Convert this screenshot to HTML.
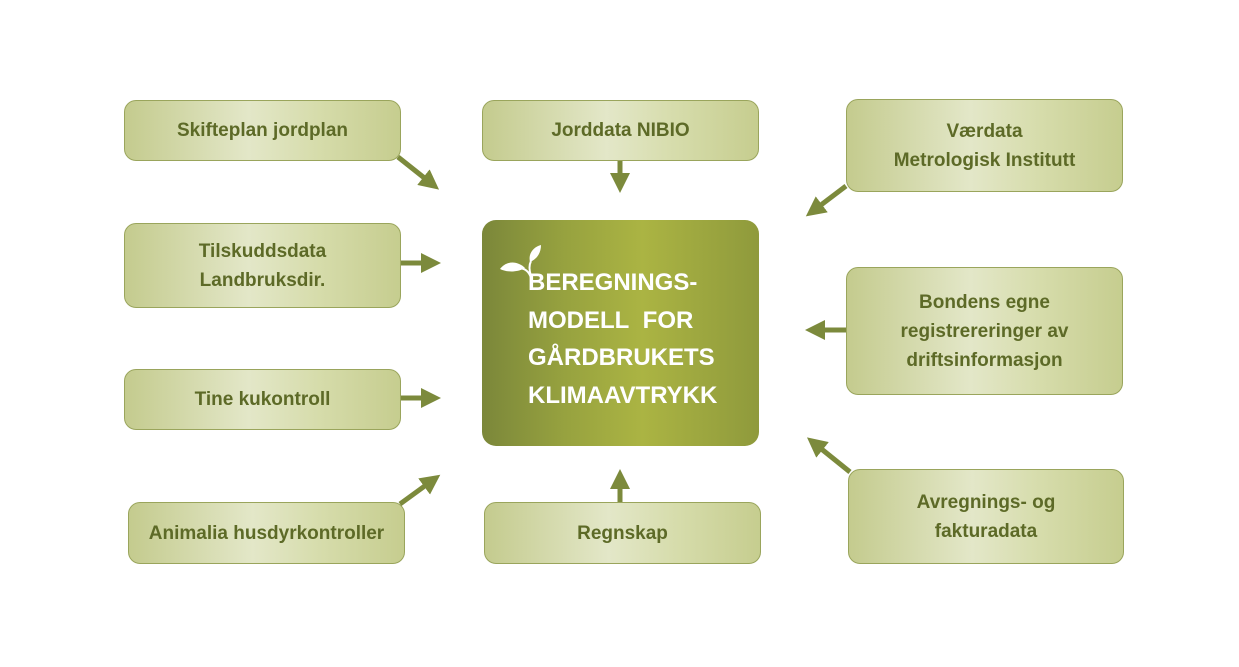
<!DOCTYPE html>
<html><head><meta charset="utf-8"><style>
html,body{margin:0;padding:0;background:#fff;}
body{width:1239px;height:667px;position:relative;overflow:hidden;font-family:"Liberation Sans","DejaVu Sans",sans-serif;}
.b{position:absolute;box-sizing:border-box;border:1.5px solid #9aa55c;border-radius:12px;
background:linear-gradient(90deg,#c4cb8e 0%,#e3e7c8 45%,#d6dcab 70%,#c6cd8f 100%);
display:flex;align-items:center;justify-content:center;text-align:center;
color:#5d6a27;font-weight:bold;font-size:19px;line-height:29px;}
.c{position:absolute;left:482px;top:220px;width:277px;height:226px;border-radius:14px;
background:linear-gradient(90deg,#7b873a 0%,#97a23f 30%,#abb443 58%,#8f9a3c 100%);}
.ct{position:absolute;left:528px;top:264px;color:#fff;font-weight:bold;font-size:24px;line-height:37.5px;letter-spacing:0px;}
svg{position:absolute;left:0;top:0;}
</style></head><body>
<div class="b" style="left:124px;top:100px;width:277px;height:61px;">Skifteplan jordplan</div>
<div class="b" style="left:482px;top:100px;width:277px;height:61px;">Jorddata NIBIO</div>
<div class="b" style="left:846px;top:99px;width:277px;height:93px;">Værdata<br>Metrologisk Institutt</div>
<div class="b" style="left:124px;top:223px;width:277px;height:85px;">Tilskuddsdata<br>Landbruksdir.</div>
<div class="b" style="left:846px;top:267px;width:277px;height:128px;">Bondens egne<br>registrereringer av<br>driftsinformasjon</div>
<div class="b" style="left:124px;top:369px;width:277px;height:61px;">Tine kukontroll</div>
<div class="b" style="left:128px;top:502px;width:277px;height:62px;">Animalia husdyrkontroller</div>
<div class="b" style="left:484px;top:502px;width:277px;height:62px;">Regnskap</div>
<div class="b" style="left:848px;top:469px;width:276px;height:95px;">Avregnings- og<br>fakturadata</div>
<div class="c"></div>
<div class="ct">BEREGNINGS-<br>MODELL&nbsp; FOR<br>GÅRDBRUKETS<br>KLIMAAVTRYKK</div>
<svg width="1239" height="667" viewBox="0 0 1239 667">
<defs><marker id="a" markerWidth="4" markerHeight="4" refX="2.2" refY="2" orient="auto" markerUnits="strokeWidth"><path d="M0,0 L4,2 L0,4 Z" fill="#7c8a3c"/></marker></defs>
<g stroke="#7c8a3c" stroke-width="5" fill="none" marker-end="url(#a)">
<line x1="398" y1="157" x2="432" y2="184"/>
<line x1="620" y1="161" x2="620" y2="184"/>
<line x1="846" y1="186" x2="813" y2="211"/>
<line x1="401" y1="263" x2="432" y2="263"/>
<line x1="846" y1="330" x2="814" y2="330"/>
<line x1="401" y1="398" x2="432" y2="398"/>
<line x1="400" y1="504" x2="433" y2="480"/>
<line x1="620" y1="502" x2="620" y2="478"/>
<line x1="850" y1="472" x2="814" y2="443"/>
</g>
<g fill="#fff">
<path d="M500,269 C507,260 518,261 525,268 C516,273 506,272 500,269 Z"/>
<path d="M530,262 C528,254 533,247 541,245 C541,253 537,259 530,262 Z"/>
<path d="M518,268 C524,268 529,271 531,278" stroke="#fff" stroke-width="2" fill="none"/>
<path d="M531,276 C529,270 529,265 531,261" stroke="#fff" stroke-width="2" fill="none"/>
</g>
</svg>
</body></html>
